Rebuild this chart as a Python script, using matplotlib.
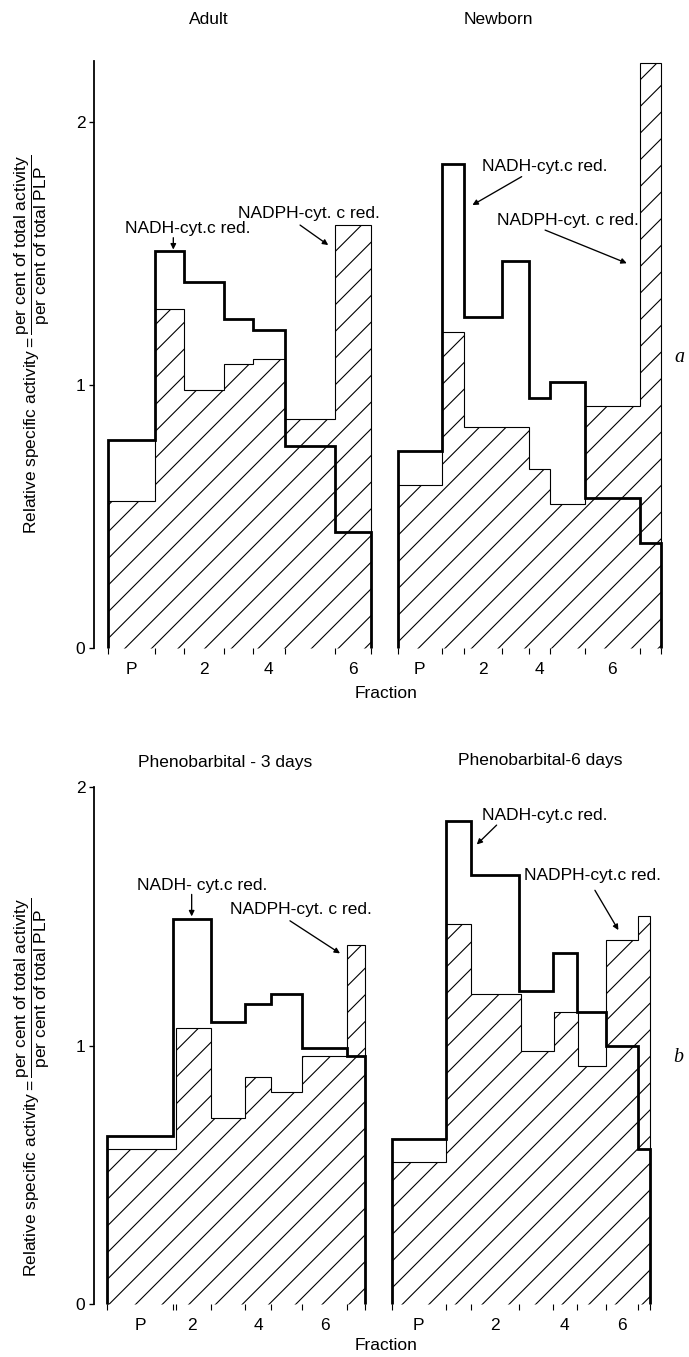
import numpy as np
import matplotlib
matplotlib.use("Agg")
import matplotlib.pyplot as plt

# -----------------------------------------------------------------
# Data: fraction boundaries (cumulative % of total PLP) and the
# relative specific activities of the two reductases per fraction
# -----------------------------------------------------------------
frac_labels = ["P", "2", "4", "6"]

adult_edges = [0, 18.0, 29.1, 44.2, 55.1, 67.1, 86.3, 100]
adult_nadh = [0.79, 1.51, 1.39, 1.25, 1.21, 0.77, 0.44]
adult_nadph = [0.56, 1.29, 0.98, 1.08, 1.10, 0.87, 1.61]
adult_label_bins = [0, 2, 4, 6]

newborn_edges = [0, 16.7, 25.3, 39.5, 49.9, 57.9, 70.9, 91.8, 100]
newborn_nadh = [0.75, 1.84, 1.26, 1.47, 0.95, 1.01, 0.57, 0.40]
newborn_nadph = [0.62, 1.20, 0.84, 0.84, 0.68, 0.55, 0.92, 2.225]
newborn_label_bins = [0, 2, 4, 6]

pb3_edges_nadh = [0, 25.6, 40.1, 53.4, 63.4, 75.6, 93.1, 100]
pb3_edges_nadph = [0, 26.8, 40.1, 53.4, 63.4, 75.6, 93.1, 100]
pb3_nadh = [0.65, 1.49, 1.09, 1.16, 1.20, 0.99, 0.96]
pb3_nadph = [0.60, 1.07, 0.72, 0.88, 0.82, 0.96, 1.39]
pb3_label_bins = [0, 1, 3, 5]

pb6_edges_nadh = [0, 21.0, 30.9, 49.3, 62.4, 71.7, 83.1, 95.5, 100]
pb6_edges_nadph = [0, 21.0, 30.9, 50.0, 63.0, 72.1, 83.1, 95.5, 100]
pb6_nadh = [0.64, 1.87, 1.66, 1.21, 1.36, 1.13, 1.00, 0.60]
pb6_nadph = [0.55, 1.47, 1.20, 0.98, 1.13, 0.92, 1.41, 1.50]
pb6_label_bins = [0, 2, 4, 6]

# -----------------------------------------------------------------
# Figure set-up
# -----------------------------------------------------------------
W, H, DPI = 689, 1357, 160
plt.rcParams['font.family'] = ['Liberation Sans', 'DejaVu Sans']
plt.rcParams['font.size'] = 7.8
plt.rcParams['mathtext.fontset'] = 'custom'
plt.rcParams['mathtext.rm'] = 'Liberation Sans'
plt.rcParams['mathtext.it'] = 'Liberation Sans:italic'
plt.rcParams['hatch.linewidth'] = 0.5

fig = plt.figure(figsize=(W / DPI, H / DPI), dpi=DPI)
fig.patch.set_facecolor('white')


def px(x, y):
    return x / W, 1 - y / H


def add_row(x0, sx, y0, sy, xlim, ylim):
    left = x0 + xlim[0] * sx
    right = x0 + xlim[1] * sx
    top = y0 - ylim[1] * sy
    ax = fig.add_axes([left / W, 1 - y0 / H, (right - left) / W, (y0 - top) / H])
    ax.set_xlim(xlim)
    ax.set_ylim(ylim)
    for s in ['top', 'right', 'bottom']:
        ax.spines[s].set_visible(False)
    ax.spines['left'].set_linewidth(0.8)
    ax.set_yticks([0, 1, 2])
    ax.tick_params(axis='y', direction='out', length=2.4, width=0.6, pad=1.5)
    ax.tick_params(axis='x', which='major', direction='out', length=2.6,
                   width=0.5, labelbottom=False)
    ax.tick_params(axis='x', which='minor', length=0, pad=6.0)
    ax.patch.set_visible(False)
    return ax


def draw_panel(ax, off, e_nadph, nadph, e_nadh, nadh, label_bins):
    ep = off + np.array(e_nadph)
    eh = off + np.array(e_nadh)
    ax.stairs(nadph, ep, baseline=0, fill=True, facecolor='white',
              edgecolor='black', hatch='//', linewidth=0.5, clip_on=False)
    ax.stairs(nadh, eh, baseline=0, fill=False, edgecolor='black',
              linewidth=1.25, joinstyle='miter', clip_on=False)
    ticks = sorted(set(np.round(np.concatenate([ep, eh]), 1)))
    merged = [ticks[0]]
    for t in ticks[1:]:
        if t - merged[-1] > 0.8:
            merged.append(t)
    centers = [(eh[i] + eh[i + 1]) / 2 for i in label_bins]
    return merged, centers


def arrow(ax, start, tip):
    ax.annotate('', xy=tip, xytext=start,
                arrowprops=dict(arrowstyle='-|>', lw=0.6, color='black',
                                mutation_scale=5, shrinkA=0, shrinkB=0))


# ---------------- row a ----------------
ax1 = add_row(107.7, 2.635, 648.3, 263.2, (-5.2, 215), (0, 2.232))
t1, c1 = draw_panel(ax1, 0, adult_edges, adult_nadph, adult_edges,
                    adult_nadh, adult_label_bins)
t2, c2 = draw_panel(ax1, 110.1, newborn_edges, newborn_nadph, newborn_edges,
                    newborn_nadh, newborn_label_bins)
ax1.set_xticks(t1 + t2)
ax1.set_xticks(c1 + c2, frac_labels * 2, minor=True)

ax1.text(6.6, 1.595, 'NADH-cyt.c red.', va='center')
arrow(ax1, (24.9, 1.56), (24.9, 1.515))
ax1.text(49.6, 1.653, 'NADPH-cyt. c red.', va='center')
arrow(ax1, (73.0, 1.608), (83.7, 1.532))
ax1.text(141.9, 1.832, 'NADH-cyt.c red.', va='center')
arrow(ax1, (157.1, 1.792), (138.4, 1.684))
ax1.text(147.6, 1.627, 'NADPH-cyt. c red.', va='center')
arrow(ax1, (166.0, 1.589), (197.0, 1.463))

# ---------------- row b ----------------
ax2 = add_row(107.3, 2.58, 1304.3, 258.6, (-5.15, 215), (0, 2.0))
t3, c3 = draw_panel(ax2, 0, pb3_edges_nadph, pb3_nadph, pb3_edges_nadh,
                    pb3_nadh, pb3_label_bins)
t4, c4 = draw_panel(ax2, 110.2, pb6_edges_nadph, pb6_nadph, pb6_edges_nadh,
                    pb6_nadh, pb6_label_bins)
ax2.set_xticks(t3 + t4)
ax2.set_xticks(c3 + c4, frac_labels * 2, minor=True)

ax2.text(11.4, 1.619, 'NADH- cyt.c red.', va='center')
arrow(ax2, (32.7, 1.585), (32.7, 1.50))
ax2.text(47.6, 1.527, 'NADPH-cyt. c red.', va='center')
arrow(ax2, (70.8, 1.483), (90.2, 1.357))
ax2.text(145.1, 1.892, 'NADH-cyt.c red.', va='center')
arrow(ax2, (150.9, 1.853), (143.2, 1.778))
ax2.text(161.6, 1.657, 'NADPH-cyt.c red.', va='center')
arrow(ax2, (189.0, 1.601), (198.1, 1.447))

# ---------------- titles, labels ----------------
for txt, (x, y) in [('Adult', (209, 19)), ('Newborn', (498, 20)),
                    ('Phenobarbital - 3 days', (225, 763)),
                    ('Phenobarbital-6 days', (540, 760)),
                    ('Fraction', (386, 694)), ('Fraction', (386, 1345))]:
    fig.text(*px(x, y), txt, ha='center', va='center')

ylab = (r'Relative specific activity$=\dfrac{\mathrm{per\ cent\ of\ total\ activity}}'
        r'{\mathrm{per\ cent\ of\ total\ PLP}}$')
fig.text(*px(32, 344), ylab, rotation=90, ha='center', va='center')
fig.text(*px(32, 1087), ylab, rotation=90, ha='center', va='center')

fig.text(*px(679, 357), 'a', ha='center', va='center', style='italic',
         family='Liberation Serif', fontsize=9)
fig.text(*px(678, 1057), 'b', ha='center', va='center', style='italic',
         family='Liberation Serif', fontsize=9)

fig.savefig('out.png', dpi=DPI)
